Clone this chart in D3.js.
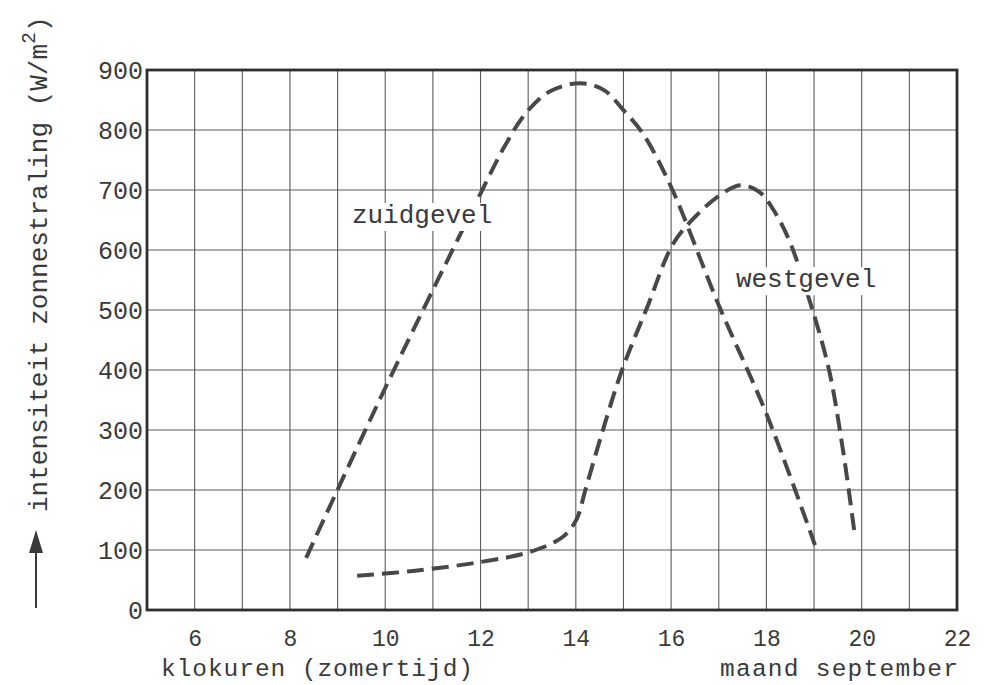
<!DOCTYPE html>
<html><head><meta charset="utf-8">
<script src="https://cdn.jsdelivr.net/npm/d3@7"></script>
<style>
html,body{margin:0;padding:0;background:#fff;}
text{font-family:"Liberation Mono","DejaVu Sans Mono",monospace;fill:#3a3a3a;}
</style></head>
<body><svg id="chart" width="986" height="685"></svg>
<script>
// ---- data ----
const xTickLabels = [6, 8, 10, 12, 14, 16, 18, 20, 22];
const yTickLabels = [0, 100, 200, 300, 400, 500, 600, 700, 800, 900];
const hourGrid = [6, 7, 8, 9, 10, 11, 12, 13, 14, 15, 16, 17, 18, 19, 20, 21];

const zuidHours  = [8.34, 10.0, 12.0, 12.5, 12.95, 13.45, 14.1, 14.6, 15.0, 15.4, 16.0, 17.0, 18.0, 19.02];
const zuidValues = [87, 370, 694, 772, 828, 864, 878, 866, 833, 795, 705, 508, 327, 108];

const westHours  = [9.41, 10.58, 12.0, 13.04, 13.73, 14.02, 14.2, 14.55, 14.97, 15.5, 16.04, 16.5, 17.0, 17.45, 17.85, 18.2, 18.5, 18.85, 19.3, 19.6, 19.86];
const westValues = [57, 65, 80, 97, 122, 152, 200, 295, 400, 505, 610, 655, 690, 708, 697, 660, 612, 530, 405, 270, 122];

const seriesNames = ["zuidgevel", "westgevel"];
const labelHours = [9.3, 17.36];
const labelValues = [645, 538];
const xTitle = "klokuren (zomertijd)";
const xNote = "maand september";
const yTitle = "intensiteit zonnestraling (W/m";

// ---- layout ----
const svg = d3.select("#chart");
const x = d3.scaleLinear().domain([5, 22]).range([147, 957]);
const y = d3.scaleLinear().domain([0, 900]).range([610, 70]);

// gridlines
const grid = svg.append("g").attr("stroke", "#5a5a5a").attr("stroke-width", 1.1);
grid.selectAll("line.v").data(hourGrid).join("line")
  .attr("x1", d => x(d)).attr("x2", d => x(d))
  .attr("y1", y(0)).attr("y2", y(900));
grid.selectAll("line.h").data(yTickLabels.slice(1, -1)).join("line")
  .attr("x1", x(5)).attr("x2", x(22))
  .attr("y1", d => y(d)).attr("y2", d => y(d));

// axes labels via d3 axes
const xAxis = svg.append("g").attr("transform", `translate(0,${y(0)})`)
  .call(d3.axisBottom(x).tickValues(xTickLabels).tickSize(0).tickPadding(20));
xAxis.select(".domain").remove();
xAxis.selectAll("text").attr("font-size", 23).attr("font-family", "Liberation Mono").attr("fill", "#3a3a3a");

const yAxis = svg.append("g").attr("transform", `translate(${x(5)},0)`)
  .call(d3.axisLeft(y).tickValues(yTickLabels).tickSize(0).tickPadding(4));
yAxis.select(".domain").remove();
yAxis.selectAll("text").attr("font-size", 25).attr("font-family", "Liberation Mono").attr("fill", "#3a3a3a");

// frame
svg.append("rect")
  .attr("x", x(5)).attr("y", y(900))
  .attr("width", x(22) - x(5)).attr("height", y(0) - y(900))
  .attr("fill", "none").attr("stroke", "#2e2e2e").attr("stroke-width", 2.8);

// curves
const line = d3.line().x(d => x(d[0])).y(d => y(d[1])).curve(d3.curveCatmullRom.alpha(0.5));
const curves = [d3.zip(zuidHours, zuidValues), d3.zip(westHours, westValues)];
svg.append("g").selectAll("path").data(curves).join("path")
  .attr("d", line)
  .attr("fill", "none").attr("stroke", "#484848").attr("stroke-width", 4)
  .attr("stroke-dasharray", "17,8").attr("stroke-linecap", "butt");

// series labels with white background
seriesNames.forEach((name, i) => {
  const g = svg.append("g");
  const t = g.append("text").attr("x", x(labelHours[i])).attr("y", y(labelValues[i]))
    .attr("font-size", 26).text(name);
  const b = t.node().getBBox();
  g.insert("rect", "text").attr("x", b.x - 3).attr("y", b.y + 2)
    .attr("width", b.width + 6).attr("height", b.height - 2).attr("fill", "#fff");
});

// axis titles
svg.append("text").attr("x", 161).attr("y", 676).attr("font-size", 24.5)
  .attr("textLength", 312).attr("lengthAdjust", "spacing").text(xTitle);
svg.append("text").attr("x", 720).attr("y", 676).attr("font-size", 24.5)
  .attr("textLength", 238).attr("lengthAdjust", "spacing").text(xNote);

const yt = svg.append("text").attr("transform", "translate(47,512) rotate(-90)")
  .attr("font-size", 26);
yt.append("tspan").text(yTitle);
yt.append("tspan").attr("font-size", 20).attr("dy", -12).text("2");
yt.append("tspan").attr("dy", 12).text(")");

// arrow
svg.append("line").attr("x1", 36).attr("x2", 36).attr("y1", 608).attr("y2", 545)
  .attr("stroke", "#3a3a3a").attr("stroke-width", 2);
svg.append("path").attr("d", "M36,530 L29,553 L43,553 Z").attr("fill", "#3a3a3a");
</script></body></html>
